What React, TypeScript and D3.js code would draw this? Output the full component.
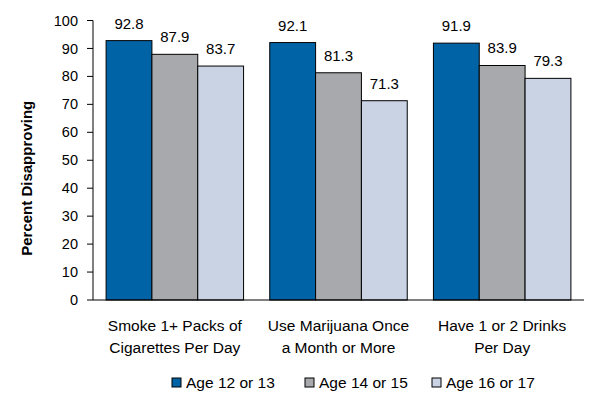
import React from "react";
import * as d3 from "d3";

const categories = [
  ["Smoke 1+ Packs of", "Cigarettes Per Day"],
  ["Use Marijuana Once", "a Month or More"],
  ["Have 1 or 2 Drinks", "Per Day"],
];
const seriesNames = ["Age 12 or 13", "Age 14 or 15", "Age 16 or 17"];
const age12to13 = [92.8, 92.1, 91.9];
const age14to15 = [87.9, 81.3, 83.9];
const age16to17 = [83.7, 71.3, 79.3];
const yTicks = [0, 10, 20, 30, 40, 50, 60, 70, 80, 90, 100];
const colors = ["#0063A6", "#A7A9AC", "#C9D3E4"];

export default function App() {
  const W = 604, H = 403;
  const left = 93, right = 584, top = 20.5, bottom = 300;
  const series = [age12to13, age14to15, age16to17];
  const x0 = d3.scaleBand<number>().domain([0, 1, 2]).range([left, right]).paddingInner(0.16).paddingOuter(0.08);
  const x1 = d3.scaleBand<number>().domain([0, 1, 2]).range([0, x0.bandwidth()]);
  const y = d3.scaleLinear().domain([0, 100]).range([bottom, top]);
  const font = "'Liberation Sans', Arial, sans-serif";
  const legendX = [172, 305, 432];
  return (
    <svg width={W} height={H} style={{ position: "absolute", left: 0, top: 0 }} fontFamily={font}>
      <rect width={W} height={H} fill="#fff" />
      {series.map((vals, si) =>
        vals.map((v, ci) => {
          const bx = (x0(ci) as number) + (x1(si) as number);
          return (
            <g key={`${si}-${ci}`}>
              <rect x={bx} y={y(v)} width={x1.bandwidth()} height={bottom - y(v)} fill={colors[si]} stroke="#000" strokeWidth={1} />
              <text x={bx + x1.bandwidth() / 2} y={y(v) - 12} textAnchor="middle" fontSize={15} fill="#000">
                {v.toFixed(1)}
              </text>
            </g>
          );
        })
      )}
      <line x1={left} x2={left} y1={top} y2={bottom} stroke="#000" />
      <line x1={left} x2={right} y1={bottom} y2={bottom} stroke="#000" />
      {yTicks.map((t) => (
        <g key={t}>
          <line x1={left - 6} x2={left} y1={y(t)} y2={y(t)} stroke="#000" />
          <text x={78} y={y(t)} dy="0.35em" textAnchor="end" fontSize={14.5} fill="#000">{t}</text>
        </g>
      ))}
      <text transform={`translate(32,${(top + bottom) / 2 + 18}) rotate(-90)`} textAnchor="middle" fontSize={15} fontWeight="bold" fill="#000">
        Percent Disapproving
      </text>
      {categories.map((lines, ci) => (
        <text key={ci} textAnchor="middle" fontSize={15.5} fill="#000">
          <tspan x={(x0(ci) as number) + x0.bandwidth() / 2} y={331}>{lines[0]}</tspan>
          <tspan x={(x0(ci) as number) + x0.bandwidth() / 2} y={353}>{lines[1]}</tspan>
        </text>
      ))}
      {seriesNames.map((n, i) => (
        <g key={n}>
          <rect x={legendX[i]} y={378} width={9} height={9} fill={colors[i]} stroke="#000" />
          <text x={legendX[i] + 14} y={383} dy="0.35em" fontSize={15.5} fill="#000">{n}</text>
        </g>
      ))}
    </svg>
  );
}
